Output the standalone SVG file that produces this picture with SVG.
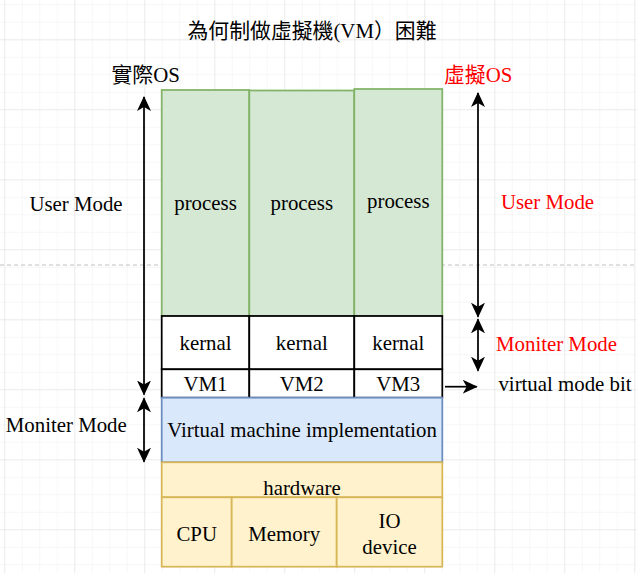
<svg xmlns="http://www.w3.org/2000/svg" width="637" height="573" viewBox="0 0 637 573">
<style>
  text { font-family: "Liberation Serif", "Noto Sans CJK TC", serif; font-size: 20.85px; fill: #000; }
  .c { text-anchor: middle; }
  .red { fill: #ff0000; }
  .green { fill: #d5e8d4; stroke: #82b366; stroke-width: 1.75; }
  .white { fill: #ffffff; stroke: #000000; stroke-width: 1.75; }
  .blue { fill: #dae8fc; stroke: #6c8ebf; stroke-width: 1.75; }
  .yellow { fill: #fff2cc; stroke: #d6b656; stroke-width: 1.75; }
  .conn { fill: none; stroke: #000; stroke-width: 1.75; }
</style>
<defs>
  <pattern id="minor" patternUnits="userSpaceOnUse" x="4.3" y="4.3" width="17.5" height="17.5">
    <path d="M0,0 H17.5 M0,0 V17.5" fill="none" stroke="#f0f0f0" stroke-width="1"/>
  </pattern>
  <pattern id="major" patternUnits="userSpaceOnUse" x="4.3" y="39.3" width="70" height="70">
    <path d="M0,0 H70 M0,0 V70" fill="none" stroke="#e0e0e0" stroke-width="1"/>
  </pattern>
  <marker id="arr" markerUnits="userSpaceOnUse" viewBox="0 0 15 14" refX="14" refY="7" markerWidth="15" markerHeight="14" orient="auto-start-reverse">
    <path d="M15,7 L0,0 L4,7 L0,14 Z" fill="#000"/>
  </marker>
</defs>
<rect width="637" height="573" fill="#ffffff"/>
<rect width="637" height="573" fill="url(#minor)"/>
<rect width="637" height="573" fill="url(#major)"/>
<line x1="0" y1="265" x2="637" y2="265" stroke="#c0c0c0" stroke-width="1" stroke-dasharray="4,3"/>

<g id="title"><text class="c" x="312" y="38">為何制做虛擬機(VM）困難</text></g>
<g id="label-real-os"><text x="111.5" y="82">實際OS</text></g>
<g id="label-virtual-os"><text class="red" x="444" y="82">虛擬OS</text></g>

<g id="process1"><rect class="green" x="161.7" y="90" width="87.6" height="226"/><text class="c" x="205.5" y="210.3">process</text></g>
<g id="process2"><rect class="green" x="249.3" y="90.5" width="105" height="225.5"/><text class="c" x="301.8" y="210.3">process</text></g>
<g id="process3"><rect class="green" x="354.3" y="89" width="88" height="227"/><text class="c" x="398.3" y="208.3">process</text></g>

<g id="kernal1"><rect class="white" x="161.7" y="316" width="87.6" height="53.3"/><text class="c" x="205.5" y="349.5">kernal</text></g>
<g id="kernal2"><rect class="white" x="249.3" y="316" width="105" height="53.3"/><text class="c" x="301.8" y="349.5">kernal</text></g>
<g id="kernal3"><rect class="white" x="354.3" y="316" width="88" height="53.3"/><text class="c" x="398.3" y="349.5">kernal</text></g>

<g id="vm1"><rect class="white" x="161.7" y="369.3" width="87.6" height="28.4"/><text class="c" x="205.5" y="391">VM1</text></g>
<g id="vm2"><rect class="white" x="249.3" y="369.3" width="105" height="28.4"/><text class="c" x="301.8" y="391">VM2</text></g>
<g id="vm3"><rect class="white" x="354.3" y="369.3" width="88" height="28.4"/><text class="c" x="398.3" y="391">VM3</text></g>

<g id="vmi"><rect class="blue" x="161.7" y="397.7" width="280.6" height="64.6"/><text class="c" x="302" y="436.5">Virtual machine implementation</text></g>

<g id="hardware"><rect class="yellow" x="161.7" y="462.3" width="280.6" height="35"/><text class="c" x="302" y="494.6">hardware</text></g>
<g id="cpu"><rect class="yellow" x="161.7" y="497.3" width="70" height="69.4"/><text class="c" x="196.7" y="540.5">CPU</text></g>
<g id="memory"><rect class="yellow" x="231.7" y="497.3" width="105" height="69.4"/><text class="c" x="284.2" y="540.5">Memory</text></g>
<g id="io"><rect class="yellow" x="336.7" y="497.3" width="105.6" height="69.4"/><text class="c" x="389.5" y="527.6">IO</text><text class="c" x="389.5" y="553.6">device</text></g>

<g id="label-user-mode-left"><text class="c" x="76" y="210.5">User Mode</text></g>
<g id="label-moniter-mode-left"><text class="c" x="66.3" y="431.5">Moniter Mode</text></g>
<g id="label-user-mode-right"><text class="c red" x="547.5" y="208.5">User Mode</text></g>
<g id="label-moniter-mode-right"><text class="c red" x="556.5" y="350.5">Moniter Mode</text></g>
<g id="label-virtual-mode-bit"><text class="c" x="565" y="390.5">virtual mode bit</text></g>

<g id="connectors">
  <line class="conn" x1="144" y1="97" x2="144" y2="394.5" marker-start="url(#arr)" marker-end="url(#arr)"/>
  <line class="conn" x1="144" y1="398.3" x2="144" y2="461.7" marker-start="url(#arr)" marker-end="url(#arr)"/>
  <line class="conn" x1="478" y1="93" x2="478" y2="316.7" marker-start="url(#arr)" marker-end="url(#arr)"/>
  <line class="conn" x1="478" y1="319.3" x2="478" y2="370.7" marker-start="url(#arr)" marker-end="url(#arr)"/>
  <line class="conn" x1="445" y1="386.7" x2="476.7" y2="386.7" marker-end="url(#arr)"/>
</g>
</svg>
